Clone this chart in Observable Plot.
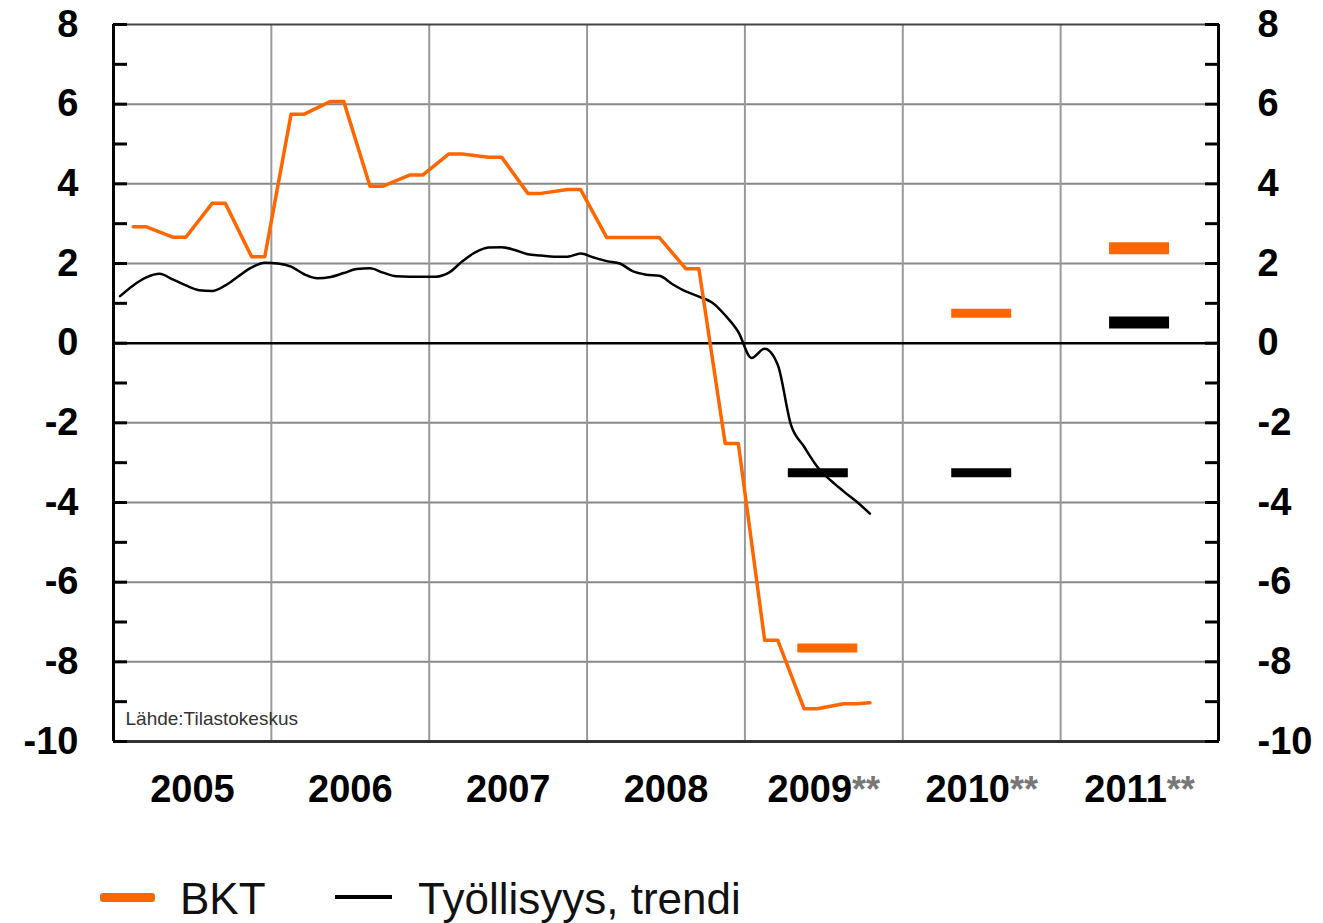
<!DOCTYPE html>
<html><head><meta charset="utf-8">
<script src="https://cdn.jsdelivr.net/npm/d3@7"></script>
<script src="https://cdn.jsdelivr.net/npm/@observablehq/plot@0.6"></script>
<style>
body{margin:0;background:#fff;font-family:"Liberation Sans",Arial,sans-serif;}
#chart{position:absolute;left:0;top:0;}
.sw{position:absolute;}
.lt{position:absolute;font-size:44px;line-height:44px;color:#111;white-space:nowrap;}
</style></head><body>
<div id="chart"></div>
<div class="sw" style="left:100px;top:893px;width:55px;height:9px;background:#ff6600;border-radius:3px;"></div>
<div class="lt" style="left:180px;top:877px;">BKT</div>
<div class="sw" style="left:335px;top:895px;width:57px;height:4px;background:#000;"></div>
<div class="lt" style="left:418px;top:877px;">Työllisyys, trendi</div>
<script>
const years = [2005, 2006, 2007, 2008, 2009, 2010, 2011];
const yearLabels = ["2005", "2006", "2007", "2008", "2009**", "2010**", "2011**"];

// BKT (GDP), quarterly values
const bktQuarters = ["2005Q1","2005Q2","2005Q3","2005Q4","2006Q1","2006Q2","2006Q3","2006Q4",
  "2007Q1","2007Q2","2007Q3","2007Q4","2008Q1","2008Q2","2008Q3","2008Q4","2009Q1","2009Q2","2009Q3"];
const bktValues = [2.92, 2.66, 3.51, 2.17, 5.75, 6.07, 3.94, 4.22,
  4.75, 4.67, 3.76, 3.86, 2.65, 2.65, 1.87, -2.52, -7.46, -9.18, -9.05];
const bktLastMonth = "2009-10";
const bktLastValue = -9.03;

// Työllisyys, trendi (employment trend), monthly from 2005-01
const empStart = "2005-01";
const empValues = [1.18, 1.45, 1.65, 1.74, 1.60, 1.45, 1.33, 1.31, 1.45, 1.68, 1.90, 2.02,
  2.00, 1.92, 1.73, 1.63, 1.66, 1.76, 1.86, 1.88, 1.77, 1.68, 1.67, 1.67,
  1.67, 1.77, 2.05, 2.28, 2.40, 2.41, 2.34, 2.23, 2.20, 2.17, 2.17, 2.25,
  2.15, 2.06, 2.00, 1.80, 1.72, 1.69, 1.48, 1.30, 1.17, 1.02, 0.70, 0.28,
  -0.37, -0.14, -0.55, -2.05, -2.60, -3.10, -3.44, -3.72, -3.98, -4.28];

// Forecasts
const forecastYears = [2009, 2010, 2011];
const forecastBKT = [-7.65, 0.75, 2.38];
const forecastEmp = [-3.25, -3.25, 0.52];

const yTicksMinor = d3.range(-10, 9, 1);
const yTicksMajor = d3.range(-10, 9, 2);

// build tables
const monthX = (year, m0) => year + (m0 + 0.5) / 12;
const bktData = [];
bktQuarters.forEach((q, i) => {
  const yr = +q.slice(0, 4), qi = +q.slice(5) - 1;
  bktData.push({x: monthX(yr, qi * 3 + 1), v: bktValues[i]});
  bktData.push({x: monthX(yr, qi * 3 + 2), v: bktValues[i]});
});
bktData.push({x: monthX(+bktLastMonth.slice(0, 4), +bktLastMonth.slice(5) - 1), v: bktLastValue});

const y0 = +empStart.slice(0, 4), m0 = +empStart.slice(5) - 1;
const empData = empValues.map((v, i) => ({x: monthX(y0, m0 + i), v}));

const fc = forecastYears.map((yr, i) => ({year: yr, bkt: forecastBKT[i], emp: forecastEmp[i]}));
const barW = d => d.year === 2011 ? 12 : 9;
// first forecast year's two bars are drawn slightly staggered in the original
const shiftE = d => d.year === forecastYears[0] ? -0.035 : 0;
const shiftB = d => d.year === forecastYears[0] ? 0.025 : 0;

const H = 832;
const chart = Plot.plot({
  width: 1323, height: H,
  marginLeft: 113, marginRight: 105, marginTop: 24, marginBottom: H - 741,
  x: {domain: [2005, 2012], label: null},
  y: {domain: [-10, 8], label: null},
  style: {fontFamily: "Liberation Sans, Arial, sans-serif", fontSize: "38px", fontWeight: "bold", color: "#000", background: "#fff", overflow: "visible"},
  marks: [
    Plot.ruleY(yTicksMajor.filter(v => v !== 0 && v !== -10 && v !== 8), {stroke: "#888", strokeWidth: 2}),
    Plot.ruleX(years.slice(1), {stroke: "#999", strokeWidth: 2}),
    Plot.ruleY([8], {stroke: "#444", strokeWidth: 2}),
    Plot.ruleY([-10], {stroke: "#333", strokeWidth: 3}),
    Plot.ruleY([0], {stroke: "#000", strokeWidth: 2.5}),
    Plot.ruleX([2005, 2012], {stroke: "#000", strokeWidth: 3}),
    Plot.axisY({anchor: "left", ticks: yTicksMinor, tickSize: 14, dx: 14, tickFormat: () => "", stroke: "#000", strokeWidth: 3}),
    Plot.axisY({anchor: "right", ticks: yTicksMinor, tickSize: 14, dx: -14, tickFormat: () => "", stroke: "#000", strokeWidth: 3}),
    Plot.axisY({anchor: "left", ticks: yTicksMajor, tickSize: 0, tickPadding: 35, tickFormat: d => String(d)}),
    Plot.axisY({anchor: "right", ticks: yTicksMajor, tickSize: 0, tickPadding: 39, tickFormat: d => String(d)}),
    Plot.axisX({ticks: years.map(y => y + 0.5), tickSize: 0, tickPadding: 34, tickFormat: d => yearLabels[Math.round(d - 0.5) - 2005]}),
    Plot.text(["Lähde:Tilastokeskus"], {frameAnchor: "bottom-left", dx: 12, dy: -23, lineAnchor: "middle", textAnchor: "start", fontSize: 19, fontWeight: "normal", fill: "#333"}),
    Plot.line(empData, {x: "x", y: "v", stroke: "#000", strokeWidth: 2.5, curve: "monotone-x"}),
    Plot.line(bktData, {x: "x", y: "v", stroke: "#ff6600", strokeWidth: 3.5}),
    Plot.ruleY(fc, {y: "emp", x1: d => d.year + 0.31 + shiftE(d), x2: d => d.year + 0.69 + shiftE(d), stroke: "#000", strokeWidth: barW}),
    Plot.ruleY(fc, {y: "bkt", x1: d => d.year + 0.31 + shiftB(d), x2: d => d.year + 0.69 + shiftB(d), stroke: "#ff6600", strokeWidth: barW})
  ]
});
// lighter asterisks on forecast year labels
chart.querySelectorAll("text").forEach(t => {
  if (t.children.length === 0 && /\*\*$/.test(t.textContent)) {
    const base = t.textContent.replace(/\*+$/, "");
    t.textContent = base;
    const ts = document.createElementNS("http://www.w3.org/2000/svg", "tspan");
    ts.textContent = "**";
    ts.setAttribute("fill", "#777");
    ts.setAttribute("font-size", "36px");
    t.appendChild(ts);
  }
});
document.getElementById("chart").appendChild(chart);
</script>
</body></html>
